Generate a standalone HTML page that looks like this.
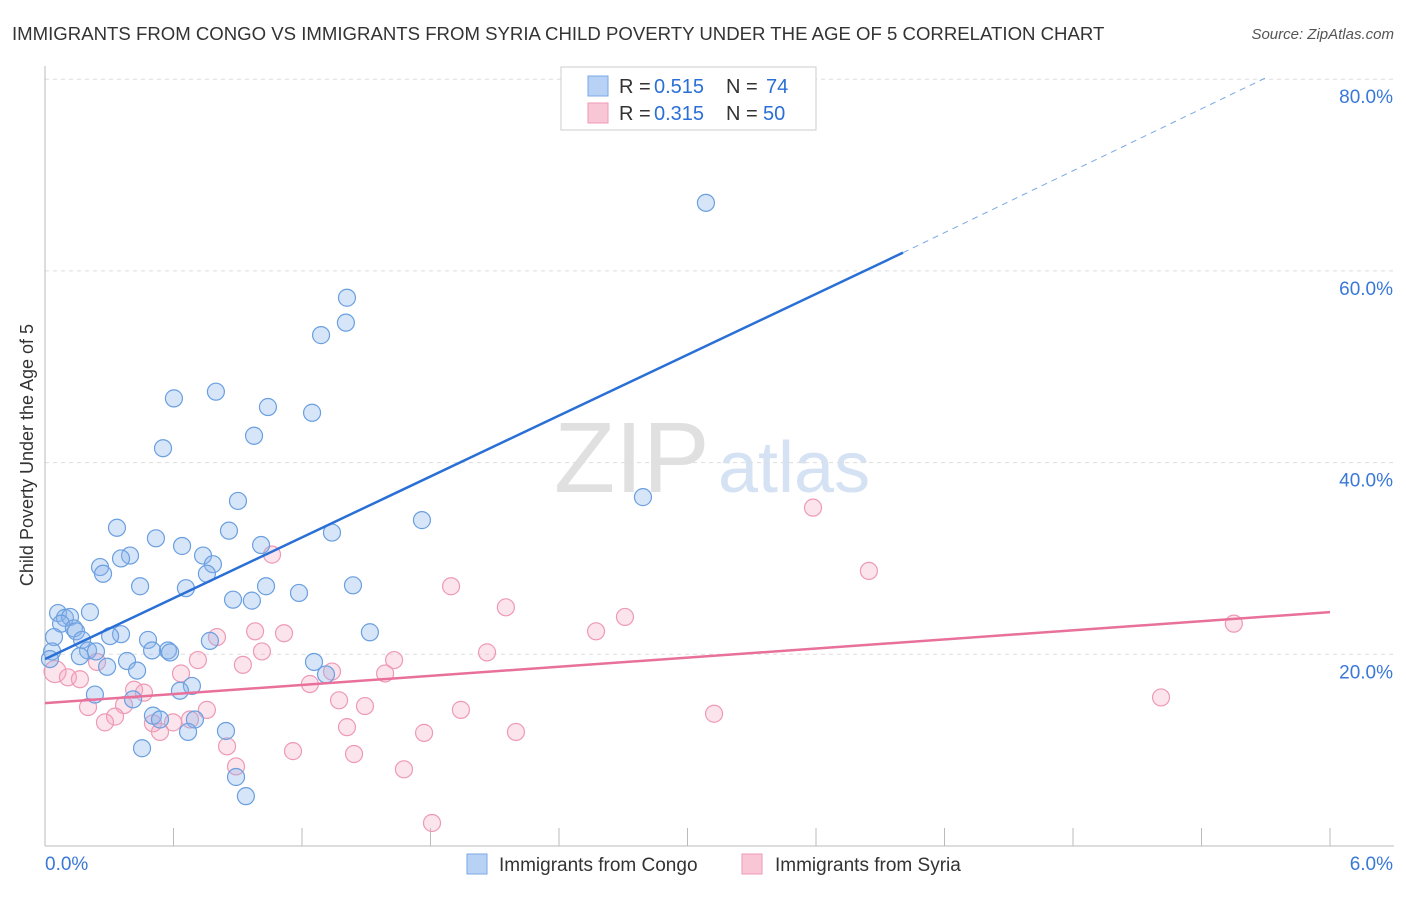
<!DOCTYPE html>
<html><head><meta charset="utf-8"><style>
body{margin:0;background:#fff;font-family:"Liberation Sans",sans-serif;}
svg text{font-family:"Liberation Sans",sans-serif;}
</style></head><body>
<svg id="c" width="1406" height="892">
<text x="12" y="40" font-size="18.6" fill="#333">IMMIGRANTS FROM CONGO VS IMMIGRANTS FROM SYRIA CHILD POVERTY UNDER THE AGE OF 5 CORRELATION CHART</text>
<text x="1394" y="39" font-size="15" fill="#555" text-anchor="end" font-style="italic">Source: ZipAtlas.com</text>
<text transform="translate(33,455) rotate(-90)" font-size="18" fill="#333" text-anchor="middle">Child Poverty Under the Age of 5</text>
<text x="554" y="492" font-size="100" fill="#e0e0e0" font-family="Liberation Serif">ZIP</text>
<text x="718" y="492" font-size="72" fill="#d4e2f4">atlas</text>
<g id="grid"></g><g id="pts"></g><g id="lines"></g>
<g>
<rect x="561" y="67" width="255" height="63" fill="#fff" stroke="#ccc"/>
<rect x="588" y="76" width="20" height="20" fill="#b8d2f5" stroke="#7aa8e6"/>
<rect x="588" y="103" width="20" height="20" fill="#f9c6d6" stroke="#ee9ab5"/>
<text x="619" y="93" font-size="20" fill="#333">R =</text>
<text x="654" y="93" font-size="20" fill="#2a6fd6">0.515</text>
<text x="726" y="93" font-size="20" fill="#333">N =</text>
<text x="766" y="93" font-size="20" fill="#2a6fd6">74</text>
<text x="619" y="120" font-size="20" fill="#333">R =</text>
<text x="654" y="120" font-size="20" fill="#2a6fd6">0.315</text>
<text x="726" y="120" font-size="20" fill="#333">N =</text>
<text x="763" y="120" font-size="20" fill="#2a6fd6">50</text>
</g>
<g>
<rect x="467" y="854" width="20" height="20" fill="#b8d2f5" stroke="#7aa8e6"/>
<text x="499" y="871" font-size="19" fill="#333">Immigrants from Congo</text>
<rect x="742" y="854" width="20" height="20" fill="#f9c6d6" stroke="#ee9ab5"/>
<text x="775" y="871" font-size="19" fill="#333">Immigrants from Syria</text>
</g>
</svg>
<script>
const yTicks=[20,40,60,80];
const xTickLabels=["0.0%","6.0%"];
const congoX=[3.086,1.410,1.405,1.289,0.798,0.602,1.041,1.247,0.976,0.551,2.792,0.901,1.760,0.336,0.859,1.340,0.518,0.640,1.009,0.397,0.355,0.738,0.784,0.257,0.271,0.756,0.444,0.658,1.032,1.438,1.186,0.878,0.966,0.061,0.210,0.093,0.117,0.075,0.135,0.145,0.355,0.304,1.517,0.042,0.173,0.481,0.770,0.201,0.574,0.238,0.500,0.584,0.033,0.163,0.023,0.383,1.256,0.290,0.430,1.312,0.686,0.630,0.233,0.411,0.504,0.537,0.700,0.668,0.845,0.453,0.892,0.938];
const congoY=[67.1,57.2,54.6,53.3,47.4,46.7,45.8,45.2,42.8,41.5,36.4,36.0,34.0,33.2,32.9,32.7,32.1,31.3,31.4,30.3,30.0,30.3,29.4,29.1,28.4,28.4,27.1,26.9,27.1,27.2,26.4,25.7,25.6,24.3,24.4,23.8,23.9,23.2,22.7,22.4,22.1,21.9,22.3,21.8,21.5,21.5,21.4,20.4,20.4,20.3,20.4,20.2,20.3,19.8,19.5,19.3,19.2,18.7,18.3,17.9,16.7,16.2,15.8,15.3,13.6,13.2,13.2,11.9,12.0,10.2,7.2,5.2];
const syriaX=[5.551,3.586,3.847,1.060,1.896,2.152,2.708,2.573,0.981,1.116,0.803,2.064,1.013,1.630,0.714,0.243,0.924,1.588,1.340,0.635,0.047,0.107,0.163,1.237,0.416,0.462,1.373,5.211,1.494,0.201,0.756,1.942,0.369,3.124,0.327,0.598,0.677,0.280,0.504,1.410,0.537,1.770,2.199,0.850,1.158,1.443,0.892,1.676,1.807];
const syriaY=[23.2,35.3,28.7,30.4,27.1,24.9,23.9,22.4,22.4,22.2,21.8,20.2,20.3,19.4,19.4,19.2,18.9,18.0,18.2,18.0,18.2,17.6,17.4,16.9,16.3,16.0,15.2,15.5,14.6,14.5,14.2,14.2,14.7,13.8,13.5,12.9,13.2,12.9,12.8,12.4,11.9,11.8,11.9,10.4,9.9,9.6,8.3,8.0,2.4];
const congoLine=[0,19.5,4.006,61.9,5.696,80.1];
const syriaLine=[0,14.9,6,24.4];
const NS="http://www.w3.org/2000/svg";
const sx=v=>45+v/6*1285, sy=v=>846-v/20*191.7;
function mk(tag,attrs,parent){const e=document.createElementNS(NS,tag);for(const k in attrs)e.setAttribute(k,attrs[k]);document.getElementById(parent).appendChild(e);return e;}
yTicks.forEach(t=>{
 const l=mk('line',{x1:45,x2:1394,y1:sy(t),y2:sy(t),stroke:'#ddd','stroke-dasharray':'4,4'},'grid');
 
 
 const tx=mk('text',{x:1393,y:sy(t)+24,'font-size':19,fill:'#3a78d8','text-anchor':'end'},'grid');
 tx.textContent=t.toFixed(1)+'%';
 
 
});
const ax=mk('line',{x1:45,x2:1394,y1:846,y2:846,stroke:'#bbb'},'grid');


const ay=mk('line',{x1:45,x2:45,y1:66,y2:846,stroke:'#bbb'},'grid');


for(let i=0;i<=10;i++){const t=mk('line',{x1:sx(i*0.6),x2:sx(i*0.6),y1:828,y2:846,stroke:'#bbb'},'grid');
 
 }
[[45,'start'],[1393,'end']].forEach((p,i)=>{const t=mk('text',{x:p[0],y:870,'font-size':19,fill:'#3a78d8','text-anchor':p[1]},'grid');t.textContent=xTickLabels[i];
 
 });
syriaX.forEach((x,i)=>{const c=mk('circle',{cx:sx(x),cy:sy(syriaY[i]),r:i===20?11:8.5,fill:'rgba(245,165,192,0.3)',stroke:'#ee9ab5','stroke-width':1.2},'pts');
 
 });
congoX.forEach((x,i)=>{const c=mk('circle',{cx:sx(x),cy:sy(congoY[i]),r:8.5,fill:'rgba(140,180,235,0.35)',stroke:'#6a9fe0','stroke-width':1.2},'pts');
 
 });
const b1=mk('line',{x1:sx(congoLine[0]),y1:sy(congoLine[1]),x2:sx(congoLine[2]),y2:sy(congoLine[3]),stroke:'#2a6fd6','stroke-width':2.5},'lines');


const b2=mk('line',{x1:sx(congoLine[2]),y1:sy(congoLine[3]),x2:sx(congoLine[4]),y2:sy(congoLine[5]),stroke:'#7aa8e6','stroke-width':1,'stroke-dasharray':'6,5'},'lines');


const p1=mk('line',{x1:sx(syriaLine[0]),y1:sy(syriaLine[1]),x2:sx(syriaLine[2]),y2:sy(syriaLine[3]),stroke:'#e8709a','stroke-width':2.5},'lines');


</script>
</body></html>
